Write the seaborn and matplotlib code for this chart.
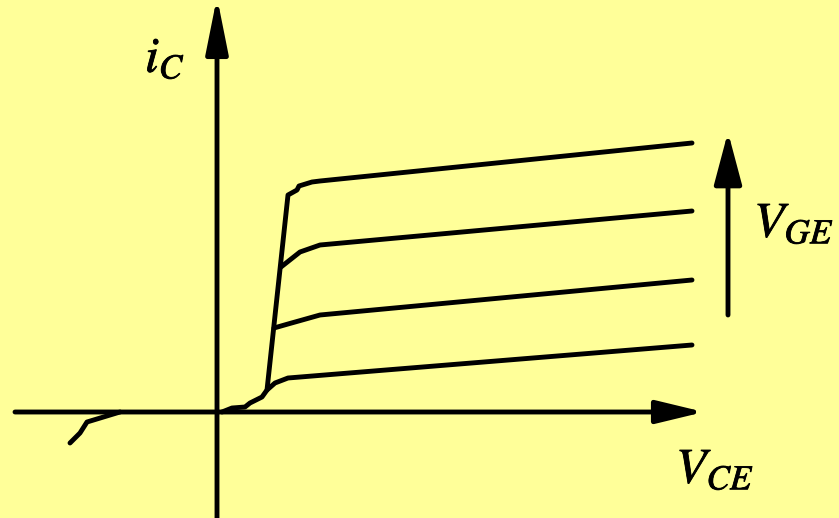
import matplotlib
matplotlib.use("Agg")
import matplotlib.pyplot as plt
import matplotlib.patheffects as pe
import seaborn as sns
import pandas as pd

# Data in sketch units (origin at axes crossing)
top_x = [0.10, 0.30, 0.56, 0.66, 0.90, 1.00, 1.42, 1.60, 1.64, 1.90, 2.06, 9.50]
top_y = [0.00, 0.08, 0.10, 0.18, 0.30, 0.44, 4.34, 4.44, 4.52, 4.60, 4.62, 5.38]
c1_x = [1.00, 1.16, 1.42, 9.50]
c1_y = [0.44, 0.58, 0.68, 1.34]
c2_x = [1.14, 1.42, 2.06, 9.50]
c2_y = [1.68, 1.76, 1.94, 2.64]
c3_x = [1.28, 1.66, 2.06, 9.50]
c3_y = [2.90, 3.20, 3.34, 4.02]
neg_x = [-1.94, -2.60, -2.74, -2.94]
neg_y = [0.00, -0.20, -0.42, -0.62]

curves = {"top": (top_x, top_y), "c1": (c1_x, c1_y), "c2": (c2_x, c2_y),
          "c3": (c3_x, c3_y), "neg": (neg_x, neg_y)}

sns.set_style("white")
bg = "#FFFF99"
fig = plt.figure(figsize=(8.39, 5.18), dpi=100, facecolor=bg)
ax = fig.add_axes([0, 0, 1, 1])
ax.set_facecolor(bg)

LW = 3.5
for name, (xs, ys) in curves.items():
    df = pd.DataFrame({"x": xs, "y": ys})
    sns.lineplot(data=df, x="x", y="y", sort=False, estimator=None, ax=ax,
                 color="black", lw=LW, solid_capstyle="round", solid_joinstyle="round")

ax.set_xlim(-4.34, 12.44)
ax.set_ylim(-2.12, 8.24)
ax.set_axis_off()

def arrow(tail, tip, hl, hw):
    ax.annotate("", xy=tip, xytext=tail, annotation_clip=False,
                arrowprops=dict(arrowstyle=f"-|>,head_length={hl},head_width={hw}",
                                lw=LW, color="black", shrinkA=0, shrinkB=0,
                                mutation_scale=1, capstyle="round", joinstyle="round"))

# axes
arrow((-4.04, 0.0), (9.74, 0.0), 29, 7.0)
arrow((0.0, -2.3), (0.0, 8.30), 34, 6.8)
# V_GE arrow
arrow((10.22, 1.94), (10.22, 5.60), 32, 8.5)

fx = [pe.withStroke(linewidth=0.6, foreground="black")]
ax.text(-1.44, 6.8, r"$i_C$", fontsize=36, math_fontfamily="stix", va="baseline",
        color="black", path_effects=fx)
ax.text(10.74, 3.5, r"$V_{GE}$", fontsize=36, math_fontfamily="stix", va="baseline",
        color="black", path_effects=fx)
ax.text(9.18, -1.42, r"$V_{CE}$", fontsize=36, math_fontfamily="stix", va="baseline",
        color="black", path_effects=fx)

fig.savefig("out.png", dpi=100, facecolor=bg)
